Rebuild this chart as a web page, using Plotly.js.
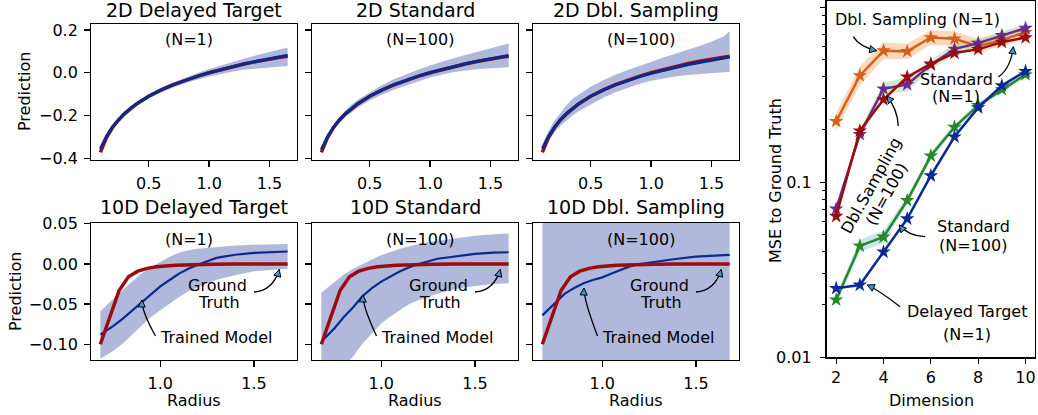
<!DOCTYPE html>
<html><head><meta charset="utf-8">
<script src="https://cdn.plot.ly/plotly-3.0.1.min.js"></script>
<style>html,body{margin:0;padding:0;background:#fff}#chart{width:1038px;height:415px}</style>
</head><body><div id="chart"></div>
<script>
// ---------------- data ----------------
// 2D panels (radius 0.1 .. 1.65)
const rTop = [0.1,0.15,0.2,0.25,0.3,0.35,0.4,0.5,0.6,0.7,0.8,0.9,1.0,1.1,1.2,1.3,1.4,1.5,1.6,1.65];
const truthTop = [-0.372,-0.304,-0.257,-0.221,-0.192,-0.167,-0.146,-0.110,-0.081,-0.057,-0.036,-0.017,0.000,0.015,0.029,0.042,0.054,0.065,0.073,0.077];
const model2dDelayed = [-0.356,-0.298,-0.253,-0.219,-0.190,-0.166,-0.145,-0.110,-0.081,-0.057,-0.036,-0.017,0.000,0.016,0.030,0.043,0.055,0.066,0.076,0.082];
const upper2dDelayed = [-0.350,-0.292,-0.247,-0.212,-0.183,-0.158,-0.137,-0.100,-0.070,-0.045,-0.023,-0.002,0.017,0.035,0.052,0.068,0.083,0.097,0.111,0.118];
const lower2dDelayed = [-0.362,-0.304,-0.259,-0.226,-0.197,-0.174,-0.153,-0.120,-0.092,-0.069,-0.049,-0.033,-0.018,-0.005,0.006,0.015,0.021,0.026,0.030,0.032];
const model2dStandard = [-0.360,-0.300,-0.255,-0.220,-0.191,-0.166,-0.145,-0.110,-0.081,-0.056,-0.035,-0.016,0.001,0.016,0.030,0.043,0.055,0.066,0.077,0.081];
const upper2dStandard = [-0.352,-0.290,-0.243,-0.206,-0.175,-0.148,-0.126,-0.090,-0.058,-0.030,-0.007,0.014,0.034,0.052,0.069,0.084,0.099,0.112,0.128,0.137];
const lower2dStandard = [-0.368,-0.310,-0.267,-0.234,-0.207,-0.184,-0.164,-0.130,-0.103,-0.080,-0.060,-0.041,-0.022,-0.008,0.003,0.011,0.017,0.021,0.025,0.026];
const model2dDbl = [-0.355,-0.298,-0.254,-0.219,-0.190,-0.166,-0.145,-0.110,-0.082,-0.058,-0.037,-0.019,-0.003,0.011,0.025,0.037,0.048,0.058,0.068,0.073];
const upper2dDbl = [-0.338,-0.272,-0.224,-0.186,-0.152,-0.122,-0.104,-0.066,-0.036,-0.010,0.012,0.030,0.050,0.071,0.088,0.108,0.125,0.146,0.170,0.194];
const lower2dDbl = [-0.375,-0.318,-0.279,-0.248,-0.222,-0.200,-0.180,-0.148,-0.118,-0.092,-0.072,-0.053,-0.037,-0.026,-0.018,-0.011,-0.006,-0.002,0.002,0.003];

// 10D panels (radius 0.68 .. 1.68)
const rTruth10 = [0.68,0.78,0.83,0.88,0.93,0.98,1.08,1.18,1.28,1.38,1.48,1.58,1.68];
const truth10 = [-0.100,-0.033,-0.016,-0.009,-0.0055,-0.0035,-0.0015,-0.0007,-0.0003,-0.0002,-0.0001,0.0,0.0];
const rBot = [0.68,0.75,0.8,0.85,0.9,0.95,1.0,1.05,1.1,1.15,1.2,1.3,1.4,1.5,1.6,1.68];
const model10dDelayed = [-0.088,-0.077,-0.068,-0.058,-0.048,-0.038,-0.028,-0.020,-0.012,-0.006,-0.001,0.0075,0.0115,0.0137,0.015,0.0155];
const upper10dDelayed = [-0.059,-0.043,-0.032,-0.022,-0.012,-0.004,0.003,0.009,0.014,0.017,0.019,0.021,0.023,0.024,0.025,0.025];
const lower10dDelayed = [-0.118,-0.108,-0.099,-0.088,-0.077,-0.066,-0.057,-0.049,-0.041,-0.034,-0.029,-0.0196,-0.014,-0.009,-0.007,-0.006];
const model10dStandard = [-0.097,-0.080,-0.066,-0.054,-0.040,-0.030,-0.022,-0.015,-0.009,-0.004,0.000,0.0065,0.0097,0.0125,0.014,0.0146];
const upper10dStandard = [-0.036,-0.022,-0.013,-0.006,0.000,0.006,0.011,0.015,0.019,0.022,0.025,0.029,0.032,0.035,0.037,0.038];
const lower10dStandard = [-0.158,-0.140,-0.127,-0.115,-0.099,-0.086,-0.074,-0.065,-0.057,-0.050,-0.045,-0.037,-0.031,-0.0275,-0.025,-0.024];
const model10dDbl = [-0.064,-0.048,-0.037,-0.030,-0.024,-0.020,-0.0167,-0.012,-0.0074,-0.0027,0.000,0.0037,0.0065,0.0092,0.0106,0.0113];
const rBand10dDbl = [0.68,1.68];
const upper10dDbl = [0.2,0.2];
const lower10dDbl = [-0.3,-0.3];

// MSE vs dimension
const dims = [2,3,4,5,6,7,8,9,10];
const mseDblN1 = [0.223,0.407,0.565,0.560,0.672,0.661,0.600,0.650,0.720];
const mseDblN1Hi = [0.250,0.460,0.630,0.620,0.740,0.730,0.660,0.710,0.780];
const mseDblN1Lo = [0.198,0.360,0.505,0.505,0.610,0.600,0.550,0.600,0.660];
const mseStdN1 = [0.0705,0.188,0.342,0.362,0.470,0.577,0.624,0.690,0.760];
const mseStdN1Hi = [0.074,0.200,0.370,0.400,0.500,0.620,0.660,0.730,0.800];
const mseStdN1Lo = [0.067,0.178,0.318,0.330,0.440,0.540,0.590,0.655,0.720];
const mseDblN100 = [0.064,0.197,0.297,0.400,0.475,0.548,0.575,0.632,0.672];
const mseStdN100 = [0.0213,0.0433,0.0487,0.0787,0.1417,0.207,0.275,0.339,0.413];
const mseStdN100Hi = [0.0225,0.047,0.053,0.083,0.148,0.215,0.285,0.350,0.425];
const mseStdN100Lo = [0.0200,0.040,0.045,0.075,0.135,0.199,0.265,0.328,0.400];
const mseDelayedN1 = [0.0248,0.0259,0.040,0.0619,0.109,0.182,0.267,0.357,0.431];

const xTicksTop = [0.5,1.0,1.5], xTickTextTop = ['0.5','1.0','1.5'];
const yTicksTop = [-0.4,-0.2,0,0.2], yTickTextTop = ['\u22120.4','\u22120.2','0.0','0.2'];
const xTicksBot = [1.0,1.5], xTickTextBot = ['1.0','1.5'];
const yTicksBot = [-0.1,-0.05,0,0.05], yTickTextBot = ['\u22120.10','\u22120.05','0.00','0.05'];
const xTicksMse = [2,4,6,8,10];
const yTicksMse = [0.01,0.1,1], yTickTextMse = ['0.01','0.1','1.0'];
const yMinorMse = [0.02,0.03,0.04,0.05,0.06,0.07,0.08,0.09,0.2,0.3,0.4,0.5,0.6,0.7,0.8,0.9];

// ---------------- styling ----------------
const W = 1038, H = 415, FONT = 'DejaVu Sans';
const RED = '#9c0c0c', BLUE = '#0b2a8e', BAND = 'rgba(29,55,155,0.35)';
const C_OR = '#d4601a', C_PU = '#6a2c91', C_RE = '#9c0c0c', C_GR = '#258a25', C_BL = '#0c2a96';
const PX = p => p / W, PY = p => 1 - p / H;

const traces = [];
function band(x, hi, lo, xa, ya, color) {
  traces.push({x: x.concat(x.slice().reverse()), y: hi.concat(lo.slice().reverse()),
    xaxis: xa, yaxis: ya, type: 'scatter', mode: 'lines', fill: 'toself',
    fillcolor: color, line: {width: 0}, hoverinfo: 'skip', showlegend: false});
}
function line(x, y, xa, ya, color, width, markers) {
  const t = {x, y, xaxis: xa, yaxis: ya, type: 'scatter', mode: markers ? 'lines+markers' : 'lines',
    line: {color, width}, showlegend: false};
  if (markers) t.marker = {symbol: 'star', size: 11, color, line: {width: 0}};
  traces.push(t);
}

// top row
band(rTop, upper2dDelayed, lower2dDelayed, 'x', 'y', BAND);
line(rTop, truthTop, 'x', 'y', RED, 3.5);
line(rTop, model2dDelayed, 'x', 'y', BLUE, 3);
band(rTop, upper2dStandard, lower2dStandard, 'x2', 'y2', BAND);
line(rTop, truthTop, 'x2', 'y2', RED, 3.5);
line(rTop, model2dStandard, 'x2', 'y2', BLUE, 3);
band(rTop, upper2dDbl, lower2dDbl, 'x3', 'y3', BAND);
line(rTop, truthTop, 'x3', 'y3', RED, 3.5);
line(rTop, model2dDbl, 'x3', 'y3', BLUE, 3);
// bottom row
band(rBot, upper10dDelayed, lower10dDelayed, 'x4', 'y4', BAND);
line(rBot, model10dDelayed, 'x4', 'y4', BLUE, 2.2);
line(rTruth10, truth10, 'x4', 'y4', RED, 3.5);
band(rBot, upper10dStandard, lower10dStandard, 'x5', 'y5', BAND);
line(rBot, model10dStandard, 'x5', 'y5', BLUE, 2.2);
line(rTruth10, truth10, 'x5', 'y5', RED, 3.5);
band(rBand10dDbl, upper10dDbl, lower10dDbl, 'x6', 'y6', BAND);
line(rBot, model10dDbl, 'x6', 'y6', BLUE, 2.2);
line(rTruth10, truth10, 'x6', 'y6', RED, 3.5);
// MSE panel
band(dims, mseDblN1Hi, mseDblN1Lo, 'x7', 'y7', 'rgba(252,170,110,0.45)');
band(dims, mseStdN1Hi, mseStdN1Lo, 'x7', 'y7', 'rgba(150,210,140,0.45)');
band(dims, mseStdN100Hi, mseStdN100Lo, 'x7', 'y7', 'rgba(140,190,225,0.45)');
line(dims, mseDblN1, 'x7', 'y7', C_OR, 2.5, true);
line(dims, mseStdN1, 'x7', 'y7', C_PU, 2.5, true);
line(dims, mseDblN100, 'x7', 'y7', C_RE, 2.5, true);
line(dims, mseStdN100, 'x7', 'y7', C_GR, 2.5, true);
line(dims, mseDelayedN1, 'x7', 'y7', C_BL, 2.5, true);

// ---------------- axes ----------------
const base = {showline: true, linecolor: 'black', linewidth: 1.3, mirror: true, ticks: 'outside',
  ticklen: 5.6, tickwidth: 1.3, tickcolor: 'black', showgrid: false, zeroline: false,
  tickfont: {family: FONT, size: 16, color: 'black'}, ticklabelstandoff: 3, tickmode: 'array', fixedrange: true};
const cols = [[91, 297], [312, 518], [533, 739]];
const rowTop = [24, 160], rowBot = [223, 360];
const layout = {width: W, height: H, margin: {l: 0, r: 0, t: 0, b: 0, pad: 0},
  paper_bgcolor: 'white', plot_bgcolor: 'white', showlegend: false, shapes: [], annotations: []};
function dom(a, b) { return [a / W, b / W]; }
function domY(a, b) { return [1 - b / H, 1 - a / H]; }
for (let i = 0; i < 3; i++) {
  const n = i + 1, m = i + 4;
  layout['xaxis' + (n === 1 ? '' : n)] = Object.assign({}, base, {domain: dom(...cols[i]), anchor: 'y' + (n === 1 ? '' : n),
    range: [0.0225, 1.7275], tickvals: xTicksTop, ticktext: xTickTextTop});
  layout['yaxis' + (n === 1 ? '' : n)] = Object.assign({}, base, {domain: domY(...rowTop), anchor: 'x' + (n === 1 ? '' : n),
    range: [-0.408, 0.228], tickvals: yTicksTop, ticktext: yTickTextTop, showticklabels: i === 0});
  layout['xaxis' + m] = Object.assign({}, base, {domain: dom(...cols[i]), anchor: 'y' + m,
    range: [0.63, 1.73], tickvals: xTicksBot, ticktext: xTickTextBot});
  layout['yaxis' + m] = Object.assign({}, base, {domain: domY(...rowBot), anchor: 'x' + m,
    range: [-0.1196, 0.051], tickvals: yTicksBot, ticktext: yTickTextBot, showticklabels: i === 0});
}
layout.xaxis7 = Object.assign({}, base, {domain: dom(826.7, 1035), anchor: 'y7', range: [1.6, 10.4],
  tickvals: xTicksMse, ticktext: xTicksMse.map(String), ticklabelstandoff: 0});
layout.yaxis7 = Object.assign({}, base, {domain: domY(1, 357.3), anchor: 'x7', type: 'log', range: [-2, 0.036],
  tickvals: yTicksMse, ticktext: yTickTextMse, ticklabelstandoff: 5,
  minor: {tickmode: 'array', tickvals: yMinorMse, ticks: 'outside', ticklen: 3.2, tickwidth: 1, tickcolor: 'black', showgrid: false}});

// ---------------- text ----------------
function txt(t, x, y, size, angle, xanchor) {
  layout.annotations.push({text: t, x: PX(x), y: PY(y), xref: 'paper', yref: 'paper', showarrow: false,
    xanchor: xanchor || 'center', yanchor: 'middle', textangle: angle || 0,
    font: {family: FONT, size: size || 16, color: 'black'}});
}
const titlesTop = ['2D Delayed Target', '2D Standard', '2D Dbl. Sampling'];
const titlesBot = ['10D Delayed Target', '10D Standard', '10D Dbl. Sampling'];
const nTop = ['(N=1)', '(N=100)', '(N=100)'];
const nBot = ['(N=1)', '(N=100)', '(N=100)'];
for (let i = 0; i < 3; i++) {
  const L = cols[i][0], C = (cols[i][0] + cols[i][1]) / 2;
  txt(titlesTop[i], C, 10, 19);
  txt(titlesBot[i], C, 207, 19);
  txt(nTop[i], L + 72.3, 39.3, 16, 0, 'left');
  txt(nBot[i], L + 72.3, 239.3, 16, 0, 'left');
  txt('Radius', C, 400, 16);
  txt('Ground', L + 126.5, 285, 16);
  txt('Truth', L + 127.5, 302.7, 16);
  txt('Trained Model', L + 125, 337.7, 16);
}
txt('Prediction', 25, 92, 16, -90);
txt('Prediction', 15, 292, 16, -90);
txt('MSE to Ground Truth', 775, 181, 16, -90);
txt('Dimension', 931, 400, 16);
txt('Dbl. Sampling (N=1)', 917.3, 19.5, 16);
txt('Standard', 956.7, 79, 16);
txt('(N=1)', 955.8, 96.7, 16);
txt('Standard', 973.3, 226, 16);
txt('(N=100)', 973.3, 245, 16);
txt('Delayed Target', 966.7, 311.7, 16);
txt('(N=1)', 966.7, 334, 16);
txt('Dbl.Sampling', 870.8, 185, 16, -61);
txt('(N=100)', 886, 194, 16, -61);

// curved arrows (pixel coordinates -> paper)
function arrow(x0, y0, cx, cy, x1, y1) {
  layout.shapes.push({type: 'path', xref: 'paper', yref: 'paper',
    path: `M ${PX(x0)},${PY(y0)} Q ${PX(cx)},${PY(cy)} ${PX(x1)},${PY(y1)}`,
    line: {color: 'black', width: 1.3}, fillcolor: 'rgba(0,0,0,0)'});
  let dx = x1 - cx, dy = y1 - cy; const len = Math.hypot(dx, dy); dx /= len; dy /= len;
  const Lh = 7, Wh = 3.6, bx = x1 - dx * Lh, by = y1 - dy * Lh;
  const p1 = [bx - dy * Wh, by + dx * Wh], p2 = [bx + dy * Wh, by - dx * Wh];
  layout.shapes.push({type: 'path', xref: 'paper', yref: 'paper',
    path: `M ${PX(x1)},${PY(y1)} L ${PX(p1[0])},${PY(p1[1])} L ${PX(p2[0])},${PY(p2[1])} Z`,
    line: {color: 'black', width: 1}, fillcolor: '#3c96d2'});
}
const tmTipY = [300, 295, 288];
for (let i = 0; i < 3; i++) {
  const L = cols[i][0];
  arrow(L + 64.5, 336, L + 50.5, tmTipY[i] + 11, L + 51, tmTipY[i]);
  arrow(L + 163, 292, L + 182, 290.6, L + 188.3, 269.5);
}
arrow(853.3, 36.7, 859.2, 46.7, 876.7, 50.7);
arrow(998.3, 77, 1010.8, 68.3, 1013.3, 46.7);
arrow(898.3, 126, 897.5, 109, 886.7, 96);
arrow(925, 236.7, 907.8, 235.7, 899.3, 225);
arrow(900, 306.7, 879.7, 290.7, 867.3, 285);

Plotly.newPlot('chart', traces, layout, {displayModeBar: false, staticPlot: true});
</script></body></html>
